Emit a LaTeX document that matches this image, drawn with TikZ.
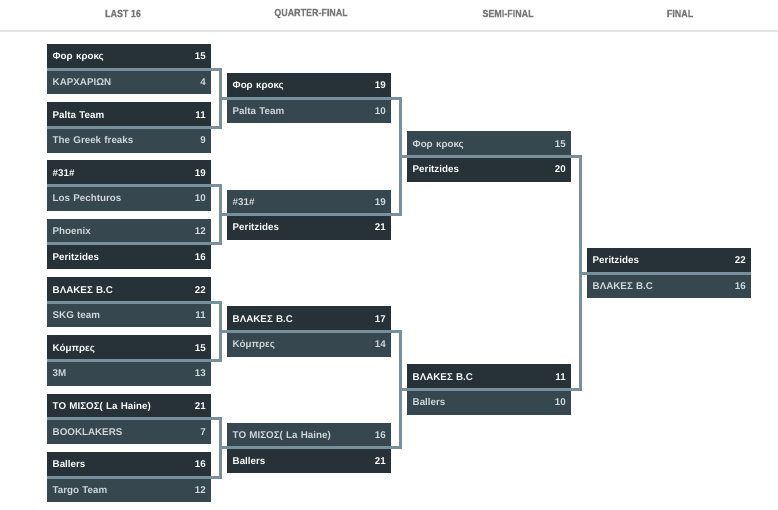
\documentclass[tikz,border=0pt]{standalone}
\usepackage{fontspec}
\setmainfont{Liberation Sans}
\newfontfamily\headfont[FakeStretch=0.85,FakeBold=0.6]{Liberation Sans Bold}
\usepackage{xcolor}
\definecolor{cWin}{HTML}{263238}
\definecolor{cLose}{HTML}{37474F}
\definecolor{cLine}{HTML}{78909C}
\definecolor{cLoseTxt}{HTML}{CFD8DC}
\definecolor{cHead}{HTML}{777777}
\definecolor{cRule}{HTML}{E4E4E4}
\tikzset{
  rowbox/.style={rectangle,minimum width=164pt,minimum height=25pt,
                 text width=153pt,inner xsep=5.5pt,inner ysep=0pt,align=left,
                 text height=8pt,text depth=1pt,
                 font=\bfseries\fontsize{9.8}{11}\selectfont},
  winrow/.style={rowbox,fill=cWin,text=white},
  loserow/.style={rowbox,fill=cLose,text=cLoseTxt},
  bracket/.style={draw=cLine,line width=3pt},
  headlabel/.style={text=cHead,font=\headfont\fontsize{10.5}{12}\selectfont},
  headrule/.style={draw=cRule,line width=1.2pt}
}

\begin{document}
\begin{tikzpicture}[x=1pt,y=-1pt]

  \fill[white] (0,0) rectangle (778,509);
  \useasboundingbox (0,0) rectangle (778,509);

  % round titles
  \node[headlabel] (h1) at (123,13.5) {LAST 16};
  \node[headlabel] (h2) at (311,13.5) {QUARTER-FINAL};
  \node[headlabel] (h3) at (508,13.5) {SEMI-FINAL};
  \node[headlabel] (h4) at (680,13.5) {FINAL};
  \draw[headrule] (0,31) -- (778,31);

  % last 16
  \foreach \k/\ta/\sa/\wa/\tb/\sb/\wb in {
      1/Φορ κροκς/15/winrow/ΚΑΡΧΑΡΙΩΝ/4/loserow,
      2/Palta Team/11/winrow/The Greek freaks/9/loserow,
      3/\#31\#/19/winrow/Los Pechturos/10/loserow,
      4/Phoenix/12/loserow/Peritzides/16/winrow,
      5/ΒΛΑΚΕΣ Β.C/22/winrow/SKG team/11/loserow,
      6/Κόμπρες/15/winrow/3M/13/loserow,
      7/ΤΟ ΜΙΣΟΣ( La Haine)/21/winrow/BOOKLAKERS/7/loserow,
      8/Ballers/16/winrow/Targo Team/12/loserow}{
    \node[\wa,anchor=south west] (lt\k) at (47,{69+58.3*(\k-1)}) {\ta\hfill\sa};
    \node[\wb,anchor=north west] (lb\k) at (47,{69+58.3*(\k-1)}) {\tb\hfill\sb};
  }

  % quarter-finals
  \foreach \k/\ta/\sa/\wa/\tb/\sb/\wb in {
      1/Φορ κροκς/19/winrow/Palta Team/10/loserow,
      2/\#31\#/19/loserow/Peritzides/21/winrow,
      3/ΒΛΑΚΕΣ Β.C/17/winrow/Κόμπρες/14/loserow,
      4/ΤΟ ΜΙΣΟΣ( La Haine)/16/loserow/Ballers/21/winrow}{
    \node[\wa,anchor=south west] (qt\k) at (227,{98.15+116.6*(\k-1)}) {\ta\hfill\sa};
    \node[\wb,anchor=north west] (qb\k) at (227,{98.15+116.6*(\k-1)}) {\tb\hfill\sb};
  }

  % semi-finals
  \foreach \k/\ta/\sa/\wa/\tb/\sb/\wb in {
      1/Φορ κροκς/15/loserow/Peritzides/20/winrow,
      2/ΒΛΑΚΕΣ Β.C/11/winrow/Ballers/10/loserow}{
    \node[\wa,anchor=south west] (st\k) at (407,{156.45+233.2*(\k-1)}) {\ta\hfill\sa};
    \node[\wb,anchor=north west] (sb\k) at (407,{156.45+233.2*(\k-1)}) {\tb\hfill\sb};
  }

  % final
  \node[winrow,anchor=south west] (ft1) at (587,273.05) {Peritzides\hfill 22};
  \node[loserow,anchor=north west] (fb1) at (587,273.05) {ΒΛΑΚΕΣ Β.C\hfill 16};

  % brackets
  \foreach \i/\j in {1/2,3/4,5/6,7/8}
    \draw[bracket] (lt\i.south west) -- ++(173,0) |- (lt\j.south west);
  \foreach \i/\j in {1/2,3/4}
    \draw[bracket] (qt\i.south west) ++(-8,0) -- ++(181,0) |- (qt\j.south west) -- ++(-8,0);
  \draw[bracket] (st1.south west) ++(-8,0) -- ++(181,0) |- (st2.south west) -- ++(-8,0);
  \draw[bracket] (ft1.south west) ++(-8,0) -- (ft1.south east);

\end{tikzpicture}
\end{document}
